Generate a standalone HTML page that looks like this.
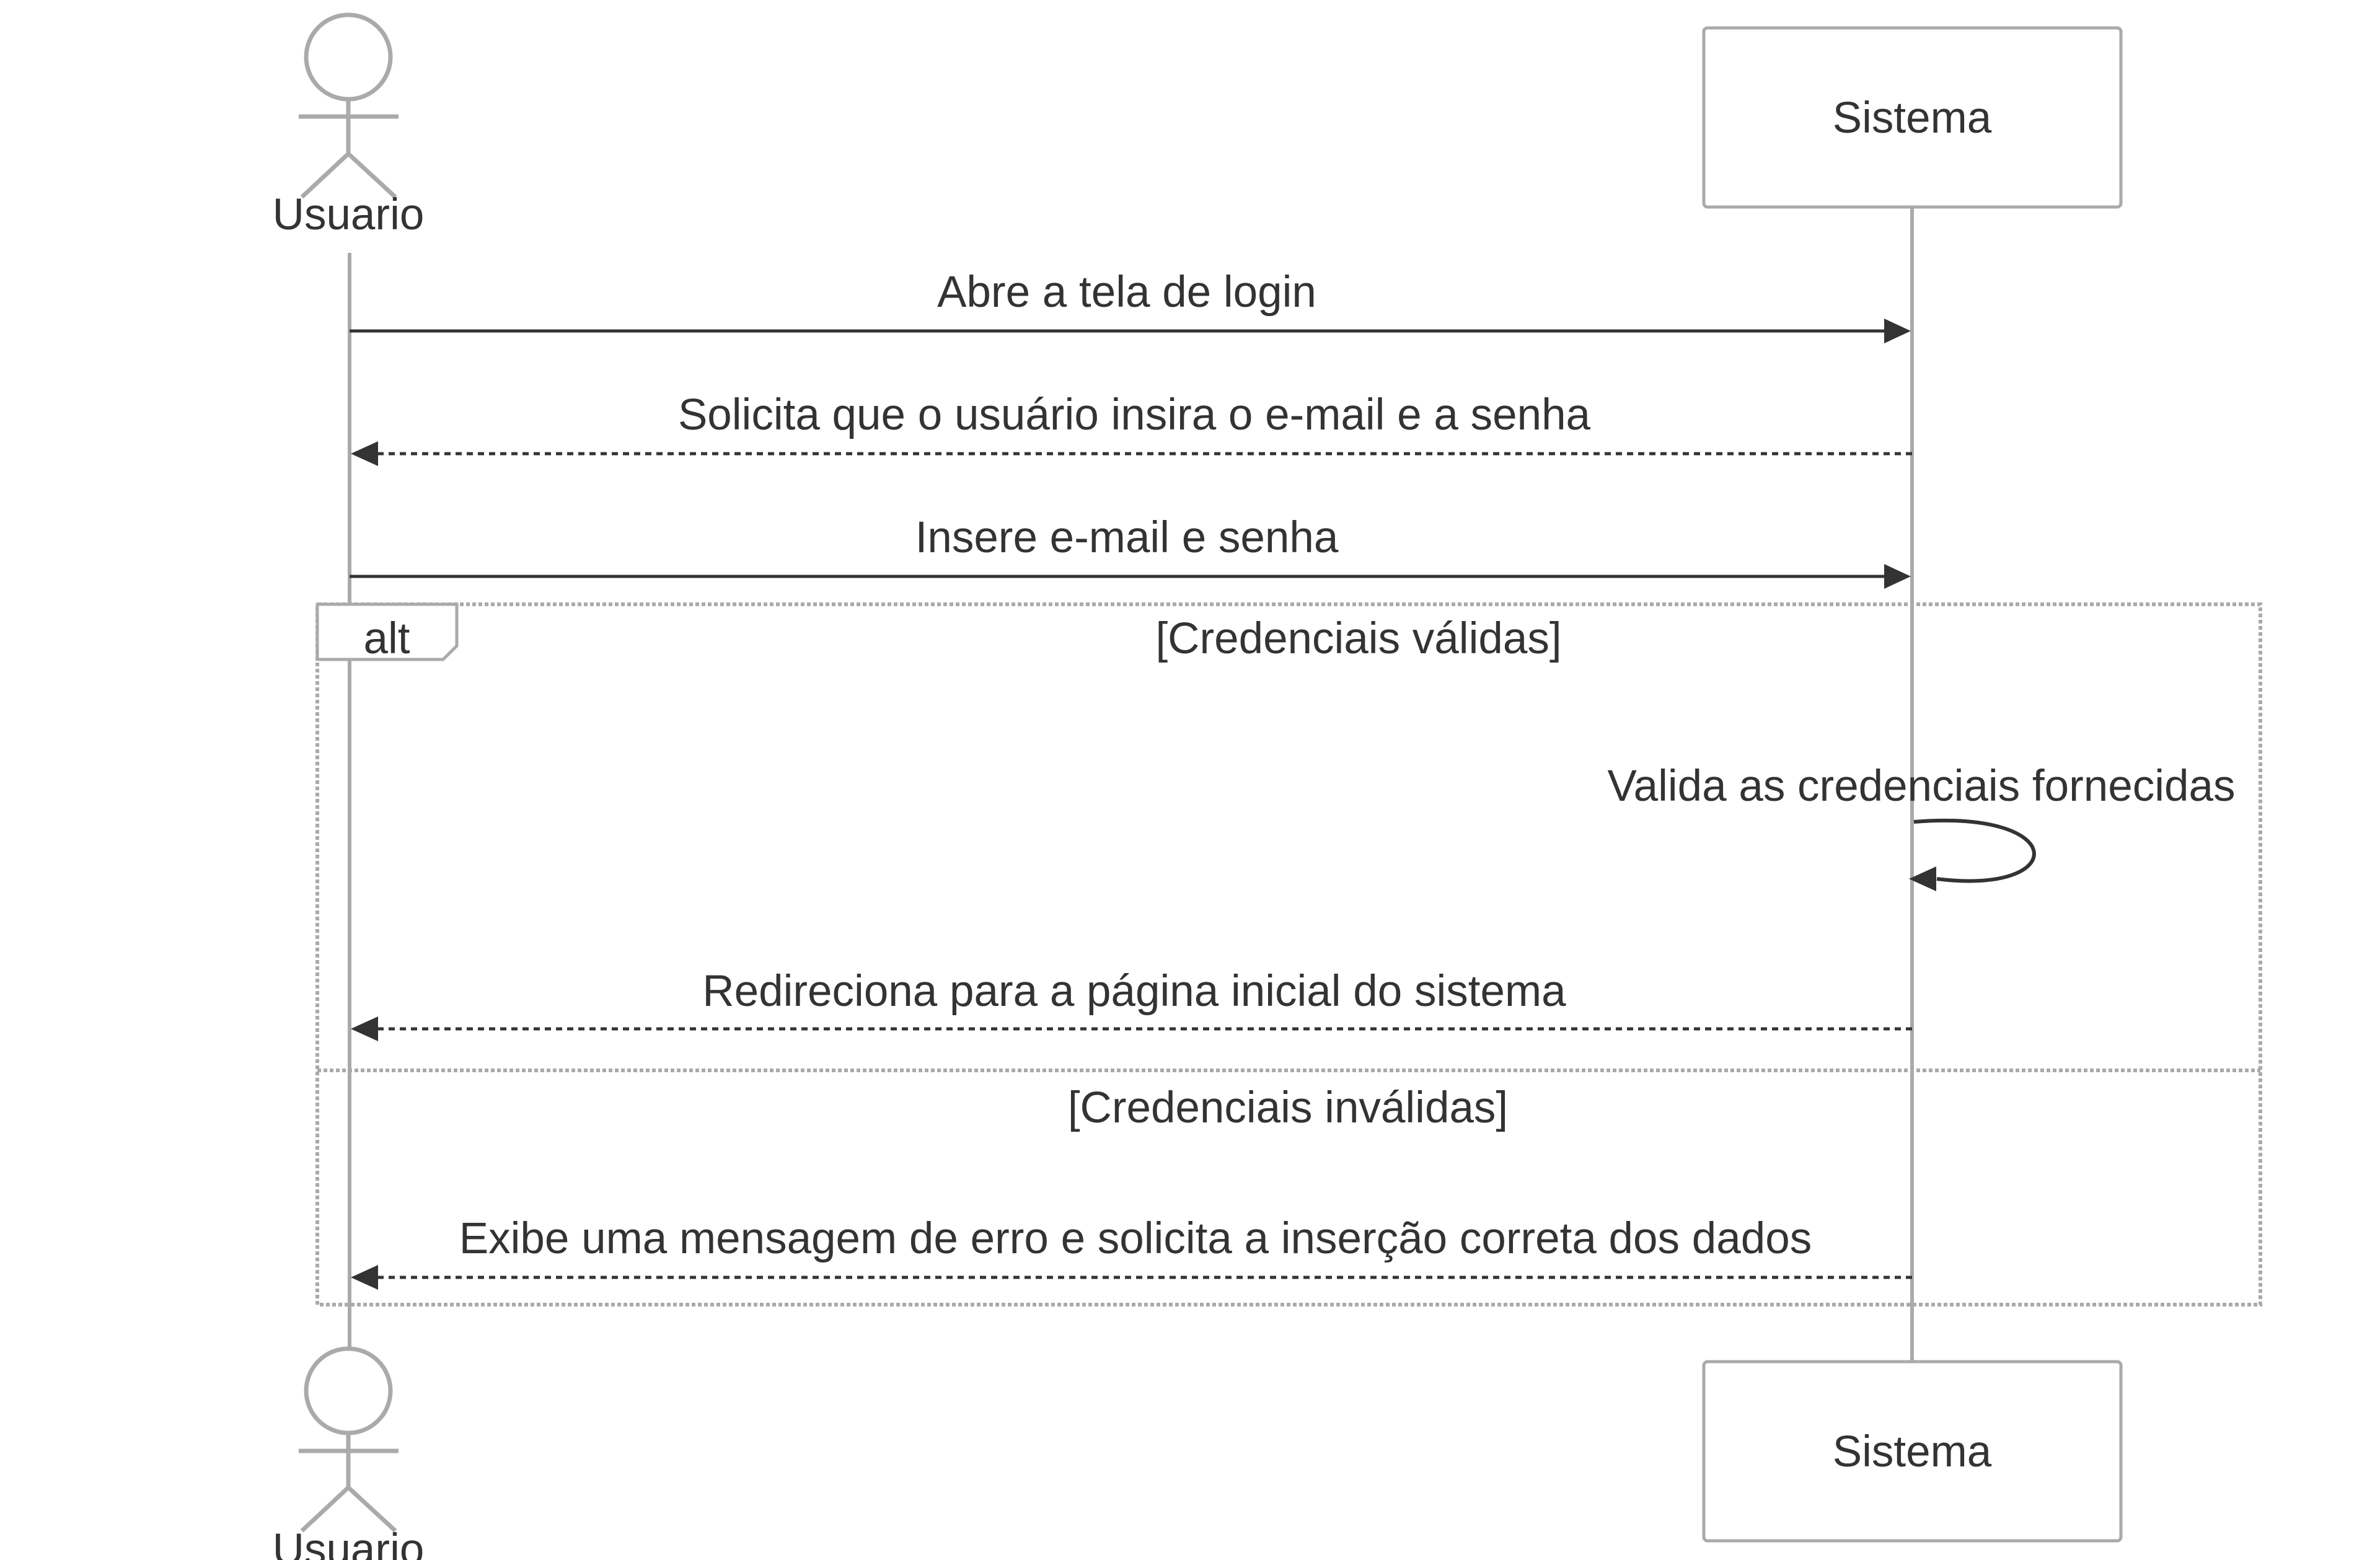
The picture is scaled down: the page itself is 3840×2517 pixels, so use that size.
<!DOCTYPE html>
<html><head><meta charset="utf-8"><style>
html,body{margin:0;padding:0;background:#fff;}
svg{display:block;}
text{font-family:"Liberation Sans",Arial,sans-serif;fill:#333;}
</style></head><body>
<svg width="3840" height="2517" viewBox="0 0 3840 2517" xmlns="http://www.w3.org/2000/svg">
<line x1="564" y1="408" x2="564" y2="2175" stroke="#aaa" stroke-width="6"/>
<line x1="3085" y1="334" x2="3085" y2="2197" stroke="#aaa" stroke-width="6"/>
<g stroke="#aaa" stroke-width="7" fill="#fff">
<circle cx="562" cy="92" r="68"/>
<line x1="562" y1="160" x2="562" y2="248"/>
<line x1="482" y1="188" x2="643" y2="188"/>
<line x1="562" y1="248" x2="487" y2="318"/>
<line x1="562" y1="248" x2="638" y2="318"/>
</g>
<text x="562" y="370" font-size="71" text-anchor="middle">Usuario</text>
<g stroke="#aaa" stroke-width="7" fill="#fff">
<circle cx="562" cy="2244" r="68"/>
<line x1="562" y1="2312" x2="562" y2="2400"/>
<line x1="482" y1="2341" x2="643" y2="2341"/>
<line x1="562" y1="2400" x2="487" y2="2470"/>
<line x1="562" y1="2400" x2="638" y2="2470"/>
</g>
<text x="562" y="2524" font-size="71" text-anchor="middle">Usuario</text>
<rect x="2749" y="45" width="673" height="289" rx="6" fill="#fff" stroke="#aaa" stroke-width="5"/>
<text x="3085" y="214" font-size="71" text-anchor="middle">Sistema</text>
<rect x="2749" y="2197" width="673" height="289" rx="6" fill="#fff" stroke="#aaa" stroke-width="5"/>
<text x="3085" y="2366" font-size="71" text-anchor="middle">Sistema</text>
<rect x="512" y="975" width="3135" height="1130" fill="none" stroke="#aaa" stroke-width="6" stroke-dasharray="6,4"/>
<line x1="512" y1="1727" x2="3647" y2="1727" stroke="#aaa" stroke-width="6" stroke-dasharray="6,4"/>
<polygon points="512,975 737,975 737,1042 715,1064 512,1064" fill="#fff" stroke="#aaa" stroke-width="5"/>
<text x="624" y="1054" font-size="71" text-anchor="middle">alt</text>
<text x="2192" y="1054" font-size="71" text-anchor="middle">[Credenciais válidas]</text>
<text x="2078" y="1811" font-size="71" text-anchor="middle">[Credenciais inválidas]</text>
<text x="1818" y="495" font-size="71" text-anchor="middle">Abre a tela de login</text>
<line x1="564" y1="534" x2="3040" y2="534" stroke="#333" stroke-width="5"/>
<polygon points="3083,534 3040,514 3040,554" fill="#333"/>
<text x="1830" y="693" font-size="71" text-anchor="middle">Solicita que o usuário insira o e-mail e a senha</text>
<line x1="3085" y1="732" x2="610" y2="732" stroke="#333" stroke-width="5" stroke-dasharray="10,8"/>
<polygon points="566,732 610,712 610,752" fill="#333"/>
<text x="1818" y="891" font-size="71" text-anchor="middle">Insere e-mail e senha</text>
<line x1="564" y1="930" x2="3040" y2="930" stroke="#333" stroke-width="5"/>
<polygon points="3083,930 3040,910 3040,950" fill="#333"/>
<text x="3100" y="1292" font-size="71" text-anchor="middle">Valida as credenciais fornecidas</text>
<path d="M3088,1326 C3340,1305 3340,1445 3125,1418" fill="none" stroke="#333" stroke-width="6"/>
<polygon points="3080,1418 3124,1398 3124,1438" fill="#333"/>
<text x="1830" y="1623" font-size="71" text-anchor="middle">Redireciona para a página inicial do sistema</text>
<line x1="3085" y1="1660" x2="610" y2="1660" stroke="#333" stroke-width="5" stroke-dasharray="10,8"/>
<polygon points="566,1660 610,1640 610,1680" fill="#333"/>
<text x="1832" y="2022" font-size="71" text-anchor="middle">Exibe uma mensagem de erro e solicita a inserção correta dos dados</text>
<line x1="3085" y1="2061" x2="610" y2="2061" stroke="#333" stroke-width="5" stroke-dasharray="10,8"/>
<polygon points="566,2061 610,2041 610,2081" fill="#333"/>
</svg>
</body></html>
